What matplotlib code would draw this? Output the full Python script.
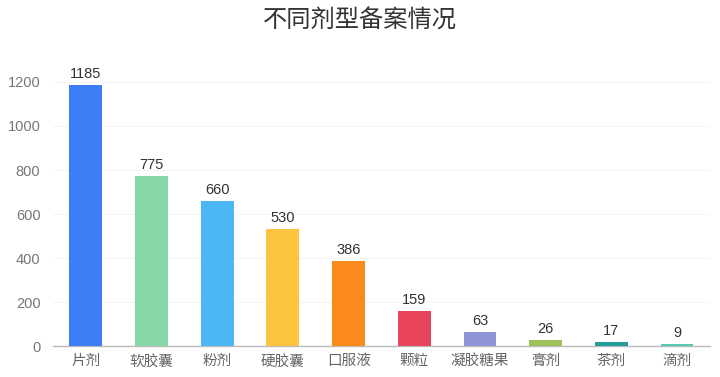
import matplotlib
matplotlib.use("Agg")
import matplotlib.pyplot as plt

plt.rcParams['font.family'] = ['Liberation Sans', 'Noto Sans CJK SC', 'DejaVu Sans']

categories = ['片剂', '软胶囊', '粉剂', '硬胶囊', '口服液', '颗粒', '凝胶糖果', '膏剂', '茶剂', '滴剂']
values = [1185, 775, 660, 530, 386, 159, 63, 26, 17, 9]
colors = ['#3d7ef6', '#86d8a8', '#4bb8f5', '#fdc43f', '#fb8a1c', '#e8455a', '#8f94d8', '#9ec25a', '#1f9e9a', '#56c9b1']
yticks = [0, 200, 400, 600, 800, 1000, 1200]

fig = plt.figure(figsize=(7.2, 3.77), dpi=100)
ax = fig.add_axes([0.0736, 0.0822, 0.9124, 0.7003])

x = range(len(categories))
bars = ax.bar(x, values, width=0.5, color=colors, zorder=3)
for xi, v in zip(x, values):
    ax.text(xi, v + 18, str(v), ha='center', va='bottom', fontsize=10.5, color='#333333')

ax.set_xlim(-0.5, len(categories) - 0.5)
ax.set_ylim(0, 1200)
ax.set_yticks(yticks)
ax.set_xticks(list(x))
ax.set_xticklabels(categories)
ax.tick_params(axis='both', length=0, labelsize=10.5, colors='#666666', pad=6)
ax.tick_params(axis='y', pad=9)
for lbl in ax.get_yticklabels():
    lbl.set_color('#777777')
ax.grid(axis='y', color='#f4f4f4', linewidth=0.8, zorder=0)
for s in ['top', 'right', 'left']:
    ax.spines[s].set_visible(False)
ax.spines['bottom'].set_color('#bbbbbb')
ax.spines['bottom'].set_linewidth(1)

fig.text(0.5, 0.945, '不同剂型备案情况', ha='center', va='center', fontsize=17.5, color='#333333')

fig.savefig('out.png', dpi=100, facecolor='white')
